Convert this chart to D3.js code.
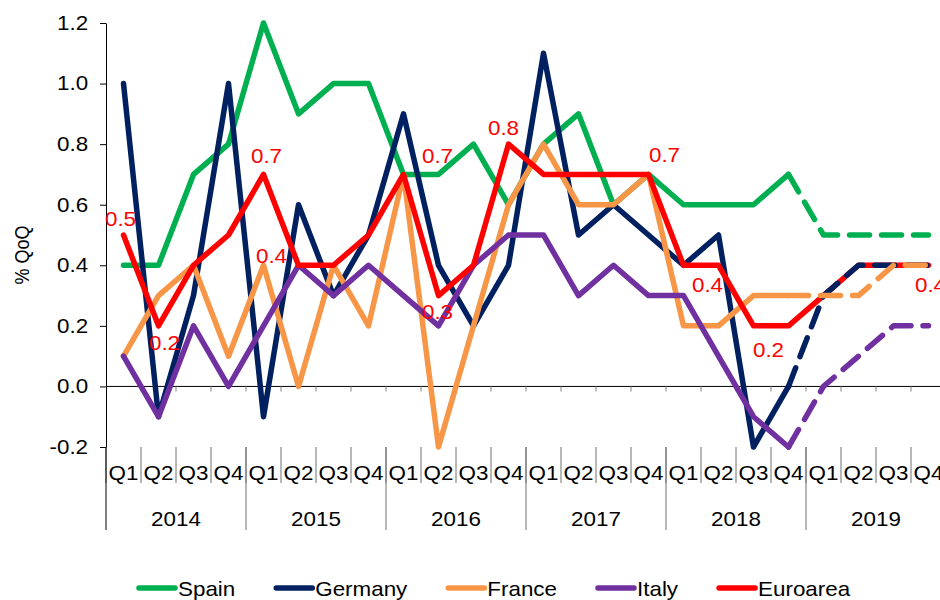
<!DOCTYPE html>
<html>
<head>
<meta charset="utf-8">
<script src="https://cdn.jsdelivr.net/npm/d3@7"></script>
<style>
body { margin: 0; background: #fff; }
text { font-family: "Liberation Sans", Arial, sans-serif; }
</style>
</head>
<body>
<svg id="chart"></svg>
<script>
// category labels
const quarters = ['Q1', 'Q2', 'Q3', 'Q4'];
const years = ['2014', '2015', '2016', '2017', '2018', '2019'];
const yTicks = [-0.2, 0, 0.2, 0.4, 0.6, 0.8, 1.0, 1.2];

// % QoQ, 2014 Q1 .. 2019 Q4 (2019 = forecast, dashed from 2018 Q4)
const spain    = [0.4, 0.4, 0.7, 0.8, 1.2, 0.9, 1.0, 1.0, 0.7, 0.7, 0.8, 0.6, 0.8, 0.9, 0.6, 0.7, 0.6, 0.6, 0.6, 0.7, 0.5, 0.5, 0.5, 0.5];
const germany  = [1.0, -0.1, 0.3, 1.0, -0.1, 0.6, 0.3, 0.5, 0.9, 0.4, 0.2, 0.4, 1.1, 0.5, 0.6, 0.5, 0.4, 0.5, -0.2, 0.0, 0.3, 0.4, 0.4, 0.4];
const france   = [0.1, 0.3, 0.4, 0.1, 0.4, 0.0, 0.4, 0.2, 0.7, -0.2, 0.2, 0.6, 0.8, 0.6, 0.6, 0.7, 0.2, 0.2, 0.3, 0.3, 0.3, 0.3, 0.4, 0.4];
const italy    = [0.1, -0.1, 0.2, 0.0, 0.2, 0.4, 0.3, 0.4, 0.3, 0.2, 0.4, 0.5, 0.5, 0.3, 0.4, 0.3, 0.3, 0.1, -0.1, -0.2, 0.0, 0.1, 0.2, 0.2];
const euroarea = [0.5, 0.2, 0.4, 0.5, 0.7, 0.4, 0.4, 0.5, 0.7, 0.3, 0.4, 0.8, 0.7, 0.7, 0.7, 0.7, 0.4, 0.4, 0.2, 0.2, 0.3, 0.4, 0.4, 0.4];
const forecastFrom = 19;

// euro area points that carry a value label
const labelIdx = [0, 1, 4, 5, 8, 9, 11, 15, 17, 19, 23];
const labelOffsets = [[-3, -16], [6, 17], [3, -18], [-27, -9], [34, -18], [-1, 16], [-5, -16], [16, -19], [-11, 20], [-20, 24], [2, 20]];

const width = 940;
const height = 600;
const plotLeft = 106, plotRight = 946, plotTop = 23, plotBottom = 447;
const sx = 1.12; // text in the reference is a little wide

const series = [
    {name: 'Spain', values: spain, color: '#00B050', dashed: true},
    {name: 'Germany', values: germany, color: '#002060', dashed: true},
    {name: 'France', values: france, color: '#F79646', dashed: true},
    {name: 'Italy', values: italy, color: '#7030A0', dashed: true},
    {name: 'Euroarea', values: euroarea, color: '#FF0000', dashed: false}
];

const svg = d3.select('#chart')
    .attr('width', width)
    .attr('height', height);

const idx = d3.range(years.length * quarters.length);
const x = d3.scaleBand().domain(idx).range([plotLeft, plotRight]);
const xYear = d3.scaleBand().domain(years).range([plotLeft, plotRight]);
const y = d3.scaleLinear().domain([-0.2, 1.2]).range([plotBottom, plotTop]);
const bw = x.bandwidth();
const cx = i => x(i) + bw / 2;

// y axis
const yAxis = svg.append('g')
    .attr('transform', `translate(${plotLeft},0)`)
    .call(d3.axisLeft(y).tickValues(yTicks).tickFormat(d => d.toFixed(1))
        .tickSize(6).tickSizeOuter(0).tickPadding(10));
yAxis.selectAll('text')
    .attr('font-size', 20)
    .attr('fill', '#000')
    .attr('font-family', '"Liberation Sans", Arial, sans-serif')
    .attr('transform', `scale(${sx},1)`);
yAxis.selectAll('line, path').attr('stroke', '#000');

svg.append('text')
    .attr('transform', `translate(22,255) rotate(-90) scale(1,${sx})`)
    .attr('text-anchor', 'middle')
    .attr('dy', '0.35em')
    .attr('font-size', 18)
    .text('% QoQ');

// zero line with small ticks
const bounds = idx.map(i => x(i)).concat([plotRight]);
svg.append('line')
    .attr('x1', plotLeft).attr('x2', plotRight)
    .attr('y1', y(0)).attr('y2', y(0))
    .attr('stroke', '#000');
svg.selectAll('.zt').data(bounds.slice(1)).enter()
    .append('line')
    .attr('x1', d => d).attr('x2', d => d)
    .attr('y1', y(0)).attr('y2', y(0) + 5)
    .attr('stroke', '#808080');

// category area
svg.selectAll('.qs').data(bounds).enter()
    .append('line')
    .attr('x1', d => d).attr('x2', d => d)
    .attr('y1', plotBottom).attr('y2', plotBottom + 36)
    .attr('stroke', '#707070');
svg.selectAll('.ys').data(years.map(yr => xYear(yr)).concat([plotRight])).enter()
    .append('line')
    .attr('x1', d => d).attr('x2', d => d)
    .attr('y1', plotBottom).attr('y2', plotBottom + 83)
    .attr('stroke', (d, i) => i == 0 ? '#000' : '#707070');

svg.selectAll('.ql').data(idx).enter()
    .append('text')
    .attr('transform', i => `translate(${cx(i)},473) scale(${sx},1)`)
    .attr('text-anchor', 'middle')
    .attr('dy', '0.35em')
    .attr('font-size', 20)
    .text(i => quarters[i % 4]);

svg.selectAll('.yl').data(years).enter()
    .append('text')
    .attr('transform', yr => `translate(${xYear(yr) + xYear.bandwidth() / 2},519) scale(${sx},1)`)
    .attr('text-anchor', 'middle')
    .attr('dy', '0.35em')
    .attr('font-size', 20)
    .text(yr => yr);

// lines
const line = d3.line().x(d => cx(d.i)).y(d => y(d.v));
const pts = vals => vals.map((v, i) => ({i: i, v: v}));

series.forEach(s => {
    const p = pts(s.values);
    svg.append('path')
        .attr('d', line(s.dashed ? p.slice(0, forecastFrom + 1) : p))
        .attr('fill', 'none')
        .attr('stroke', s.color)
        .attr('stroke-width', 5.5)
        .attr('stroke-linejoin', 'round')
        .attr('stroke-linecap', 'round');
});
series.filter(s => s.dashed).forEach(s => {
    svg.append('path')
        .attr('d', line(pts(s.values).slice(forecastFrom)))
        .attr('fill', 'none')
        .attr('stroke', s.color)
        .attr('stroke-width', 5.5)
        .attr('stroke-dasharray', '20,12')
        .attr('stroke-linejoin', 'round')
        .attr('stroke-linecap', 'round');
});

// euro area value labels
svg.selectAll('.lab').data(labelIdx).enter()
    .append('text')
    .attr('transform', (i, k) => `translate(${cx(i) + labelOffsets[k][0]},${y(euroarea[i]) + labelOffsets[k][1]}) scale(${sx},1)`)
    .attr('text-anchor', 'middle')
    .attr('dy', '0.35em')
    .attr('font-size', 20)
    .attr('fill', '#FF0000')
    .text(i => euroarea[i].toFixed(1));

// legend
let lx = 139;
series.forEach(s => {
    const g = svg.append('g').attr('transform', `translate(${lx},588)`);
    g.append('line')
        .attr('x1', 0).attr('x2', 36)
        .attr('stroke', s.color)
        .attr('stroke-width', 5.5)
        .attr('stroke-linecap', 'round');
    const t = g.append('text')
        .attr('transform', `translate(39,1) scale(${sx},1)`)
        .attr('dy', '0.35em')
        .attr('font-size', 20)
        .text(s.name);
    lx += 39 + t.node().getComputedTextLength() * sx + 41;
});
</script>
</body>
</html>
